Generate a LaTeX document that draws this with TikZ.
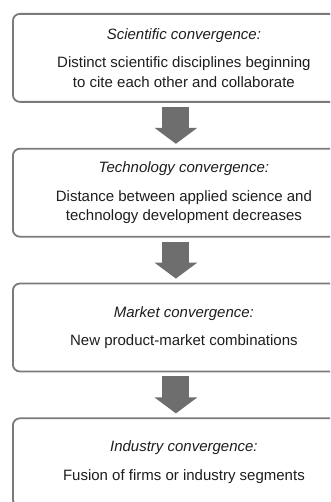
\documentclass[tikz,border=0pt]{standalone}
\usepackage{fontspec}
\setmainfont{Liberation Sans}
\usetikzlibrary{positioning,arrows.meta}
\definecolor{boxgray}{HTML}{7A7A7A}
\definecolor{arrowgray}{HTML}{6E6E6E}
\definecolor{textgray}{HTML}{1E1E1E}

\begin{document}
\begin{tikzpicture}[x=1pt, y=1pt,
    stage/.style={draw=boxgray, line width=1.8pt, rounded corners=7pt, fill=white,
        minimum width=342pt, minimum height=88pt, align=center, inner sep=0pt,
        text=textgray, font=\fontsize{15}{19.5}\selectfont},
    flowarrow/.style={draw=arrowgray, line width=27pt,
        -{Triangle[length=16pt, width=42pt]}, shorten <=4pt, shorten >=4pt},
    node distance=45pt]
    \useasboundingbox (0,0) rectangle (330,-502);
    \clip (0,0) rectangle (330,-502);
    \node[stage, anchor=north west] (sci) at (12,-13)
        {\textit{Scientific convergence:}\\[9pt]
         Distinct scientific disciplines beginning\\
         to cite each other and collaborate};
    \node[stage, below=of sci] (tech)
        {\textit{Technology convergence:}\\[9pt]
         Distance between applied science and\\
         technology development decreases};
    \node[stage, below=of tech] (market)
        {\textit{Market convergence:}\\[9pt]
         New product-market combinations};
    \node[stage, below=of market] (industry)
        {\textit{Industry convergence:}\\[9pt]
         Fusion of firms or industry segments};
    \foreach \a/\b in {sci/tech, tech/market, market/industry} {
        \draw[flowarrow] ([xshift=-8pt]\a.south) -- ([xshift=-8pt]\b.north);
    }
\end{tikzpicture}
\end{document}
